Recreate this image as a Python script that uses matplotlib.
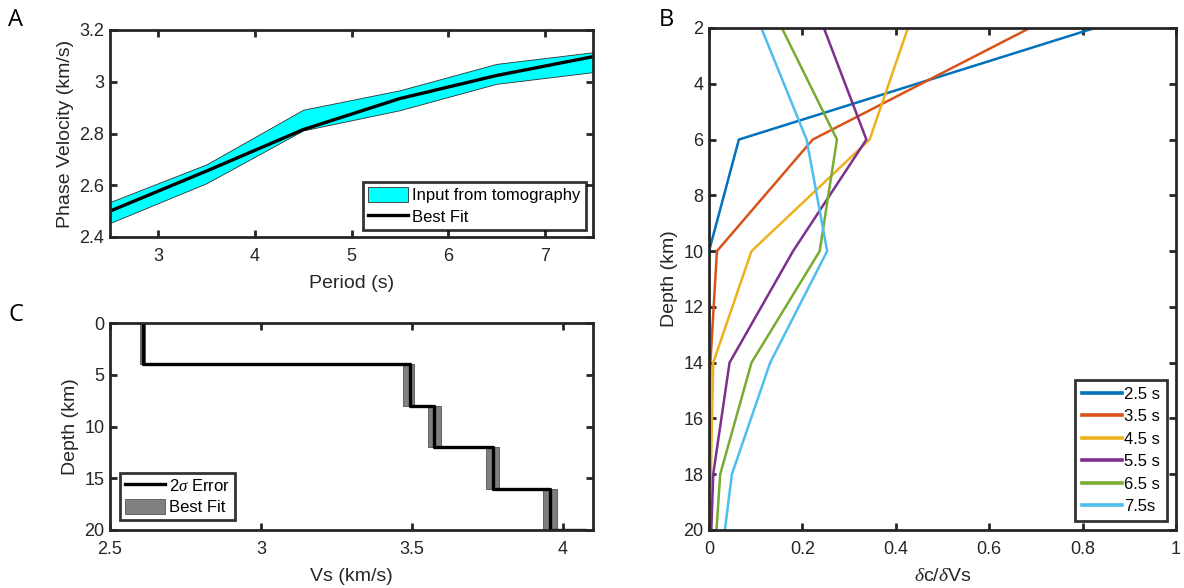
import matplotlib
matplotlib.use("Agg")
import matplotlib.pyplot as plt
import numpy as np
from matplotlib.patches import Patch
from matplotlib.lines import Line2D

plt.rcParams['font.family'] = ['Liberation Sans', 'DejaVu Sans']
plt.rcParams['mathtext.fontset'] = 'custom'
plt.rcParams['mathtext.it'] = 'Liberation Serif:italic'
plt.rcParams['mathtext.rm'] = 'Liberation Sans'

# ---- Panel A: phase velocity dispersion ----
periods = [2.5, 3.5, 4.5, 5.5, 6.5, 7.5]
vel_upper = [2.535, 2.681, 2.892, 2.967, 3.069, 3.114]
vel_lower = [2.454, 2.608, 2.812, 2.890, 2.992, 3.037]
vel_best = [2.500, 2.655, 2.815, 2.935, 3.024, 3.097]
a_xticks = [3, 4, 5, 6, 7]
a_yticks = [2.4, 2.6, 2.8, 3.0, 3.2]
a_yticklabels = ["2.4", "2.6", "2.8", "3", "3.2"]

# ---- Panel B: sensitivity kernels ----
kernel_depth = [2, 6, 10, 14, 18, 20]
kernel_labels = ["2.5 s", "3.5 s", "4.5 s", "5.5 s", "6.5 s", "7.5s"]
k_2p5 = [0.826, 0.064, 0.000, 0.000, 0.000, 0.000]
k_3p5 = [0.687, 0.222, 0.017, 0.003, 0.000, 0.000]
k_4p5 = [0.426, 0.344, 0.091, 0.009, 0.004, 0.002]
k_5p5 = [0.246, 0.337, 0.180, 0.044, 0.009, 0.005]
k_6p5 = [0.156, 0.274, 0.237, 0.091, 0.024, 0.016]
k_7p5 = [0.112, 0.209, 0.253, 0.131, 0.049, 0.034]
kernels = [k_2p5, k_3p5, k_4p5, k_5p5, k_6p5, k_7p5]
kernel_colors = ["#0072BD", "#D95319", "#EDB120", "#7E2F8E", "#77AC30", "#4DBEEE"]
b_xticks = [0, 0.2, 0.4, 0.6, 0.8, 1.0]
b_xticklabels = ["0", "0.2", "0.4", "0.6", "0.8", "1"]
b_yticks = [2, 4, 6, 8, 10, 12, 14, 16, 18, 20]

# ---- Panel C: layered shear velocity model ----
layer_top = [0, 4, 8, 12, 16]
layer_bot = [4, 8, 12, 16, 20]
vs_best = [2.608, 3.495, 3.574, 3.769, 3.957]
vs_low = [2.600, 3.471, 3.554, 3.744, 3.933]
vs_high = [2.616, 3.507, 3.598, 3.789, 3.982]
vs_halfspace = 4.075
c_xticks = [2.5, 3.0, 3.5, 4.0]
c_xticklabels = ["2.5", "3", "3.5", "4"]
c_yticks = [0, 5, 10, 15, 20]

W, H = 1184, 588
fig = plt.figure(figsize=(W / 100, H / 100), dpi=100)

spine_c = "#262626"
tick_fs = 13
label_fs = 14
legend_fs = 12


def style_axes(ax):
    for s in ax.spines.values():
        s.set_linewidth(2.0)
        s.set_color(spine_c)
    ax.tick_params(direction="in", length=5, width=2.0, top=True, right=True,
                   labelsize=tick_fs, colors=spine_c, labelcolor=spine_c)
    ax.tick_params(axis="x", pad=8)
    ax.tick_params(axis="y", pad=4)
    ax.xaxis.labelpad = 7


def style_legend(leg):
    leg.get_frame().set_edgecolor("black")
    leg.get_frame().set_linewidth(2.0)


def px_axes(x0, y0, x1, y1):
    return fig.add_axes([x0 / W, 1 - y1 / H, (x1 - x0) / W, (y1 - y0) / H])


# Panel A
axA = px_axes(110, 30, 593, 237)
axA.fill_between(periods, vel_lower, vel_upper, facecolor="#00FFFF",
                 edgecolor="#303030", linewidth=0.6)
axA.plot(periods, vel_best, color="black", linewidth=2.4)
axA.set_xlim(2.5, 7.5)
axA.set_ylim(2.4, 3.2)
axA.set_xticks(a_xticks)
axA.set_yticks(a_yticks)
axA.set_yticklabels(a_yticklabels)
axA.set_xlabel("Period (s)", fontsize=label_fs, color=spine_c)
axA.set_ylabel("Phase Velocity (km/s)", fontsize=label_fs, color=spine_c)
style_axes(axA)
legA = axA.legend(handles=[Patch(facecolor="#00FFFF", edgecolor="#303030", linewidth=0.6,
                                 label="Input from tomography"),
                           Line2D([], [], color="black", linewidth=2.4, label="Best Fit")],
                  loc="lower right", fontsize=legend_fs, frameon=True, fancybox=False,
                  borderaxespad=0.45, handlelength=2.4, handleheight=1.0,
                  handletextpad=0.25, borderpad=0.3, labelspacing=0.3)
style_legend(legA)

# Panel C
axC = px_axes(110, 323, 593, 530)
for t, b, lo, hi in zip(layer_top, layer_bot, vs_low, vs_high):
    axC.fill_betweenx([t, b], lo, hi, facecolor="#808080", edgecolor="#555555", linewidth=0.6)
step_x = [vs_best[0]]
step_y = [layer_top[0]]
for i in range(len(vs_best)):
    step_x += [vs_best[i], vs_best[i]]
    step_y += [layer_top[i], layer_bot[i]]
step_x += [vs_halfspace]
step_y += [layer_bot[-1]]
axC.plot(step_x, step_y, color="black", linewidth=2.4)
axC.set_xlim(2.5, 4.1)
axC.set_ylim(20, 0)
axC.set_xticks(c_xticks)
axC.set_xticklabels(c_xticklabels)
axC.set_yticks(c_yticks)
axC.set_xlabel("Vs (km/s)", fontsize=label_fs, color=spine_c)
axC.set_ylabel("Depth (km)", fontsize=label_fs, color=spine_c)
style_axes(axC)
legC = axC.legend(handles=[Line2D([], [], color="black", linewidth=2.4, label=r"2$\sigma$ Error"),
                           Patch(facecolor="#808080", edgecolor="#555555", linewidth=0.6,
                                 label="Best Fit")],
                  loc="lower left", fontsize=legend_fs, frameon=True, fancybox=False,
                  borderaxespad=0.6, handlelength=2.4, handleheight=1.0,
                  handletextpad=0.25, borderpad=0.3, labelspacing=0.3)
style_legend(legC)

# Panel B
axB = px_axes(709, 28, 1176, 530)
for vals, col, lab in zip(kernels, kernel_colors, kernel_labels):
    axB.plot(vals, kernel_depth, color=col, linewidth=1.8, label=lab)
axB.set_xlim(0, 1)
axB.set_ylim(20, 2)
axB.set_xticks(b_xticks)
axB.set_xticklabels(b_xticklabels)
axB.set_yticks(b_yticks)
axB.set_xlabel(r"$\delta$c/$\delta$Vs", fontsize=label_fs, color=spine_c)
axB.set_ylabel("Depth (km)", fontsize=label_fs, color=spine_c)
style_axes(axB)
legB = axB.legend(loc="lower right", fontsize=legend_fs, frameon=True, fancybox=False,
                  borderaxespad=0.55, handlelength=2.4, handletextpad=0.15,
                  borderpad=0.4, labelspacing=0.45)
style_legend(legB)
for ln in legB.get_lines():
    ln.set_linewidth(2.6)

# Panel letters
for txt, x, y in [("A", 8, 8), ("B", 659, 8), ("C", 8, 303)]:
    fig.text(x / W, 1 - y / H, txt, fontsize=17, family=["Open Sans", "DejaVu Sans"],
             va="top", ha="left", color="black")

fig.savefig("out.png", dpi=100)
